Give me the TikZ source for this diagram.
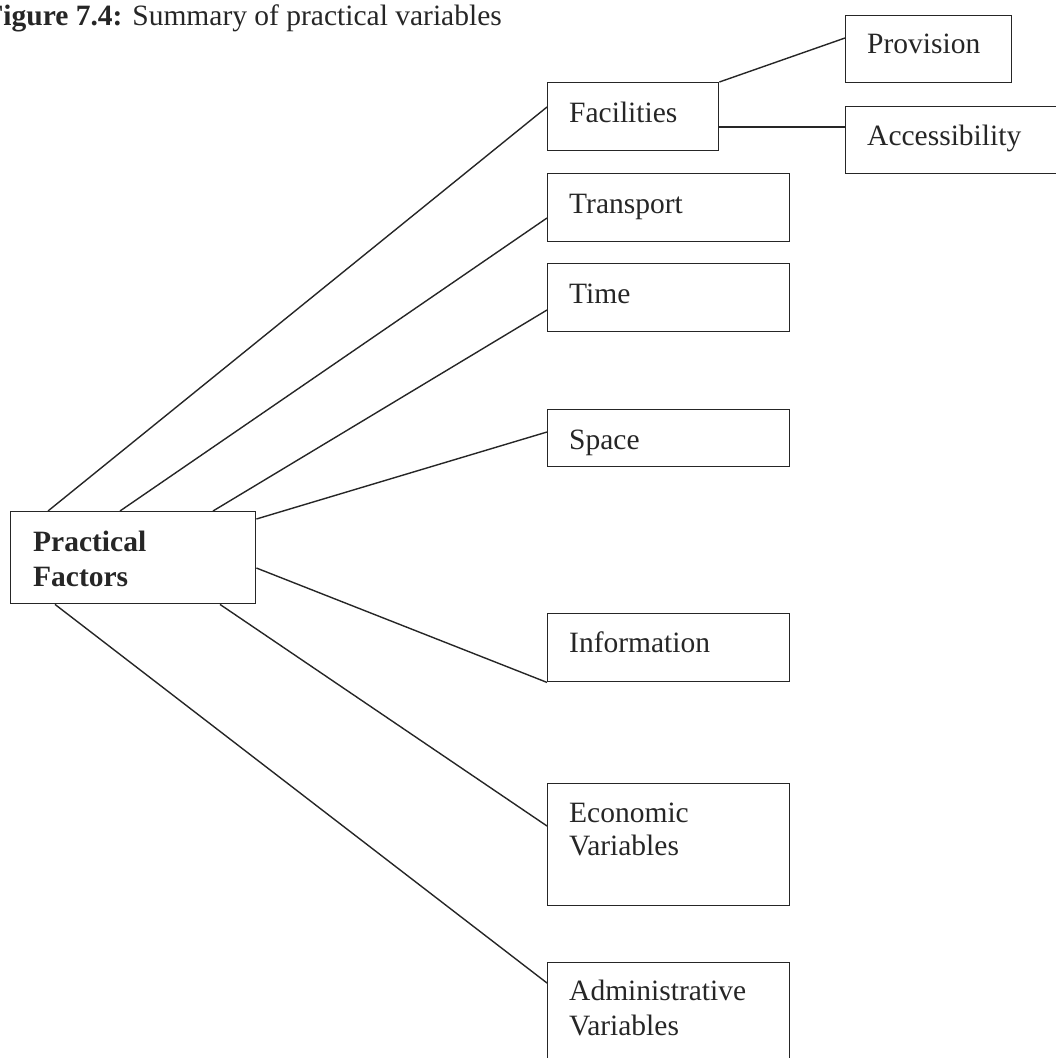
\documentclass[tikz,border=0pt]{standalone}
\usepackage{fontspec}
\setmainfont{Liberation Serif}
\begin{document}
\begin{tikzpicture}[x=1pt,y=-1pt,
  box/.style={draw=black!85, line width=1.4pt, rectangle, inner sep=0pt, anchor=north west},
  lbl/.style={anchor=base west, inner sep=0pt, align=left, text=black!85,
    font=\fontsize{29.5}{34}\selectfont},
  link/.style={draw=black!85, line width=1.4pt}]
\useasboundingbox (0,0) rectangle (1056,1058);
\clip (0,0) rectangle (1056,1058);

% caption
\node[anchor=base east, inner sep=0pt, text=black!85, font=\fontsize{29.5}{34}\selectfont]
  (cap) at (502,25) {\textbf{Figure 7.4:} Summary of practical variables};

% boxes
\node[box, minimum width=245pt, minimum height=92pt]  (pf)    at (10,511)  {};
\node[box, minimum width=171pt, minimum height=68pt]  (fac)   at (547,82)  {};
\node[box, minimum width=166pt, minimum height=67pt]  (prov)  at (845,15)  {};
\node[box, minimum width=230pt, minimum height=67pt]  (acc)   at (845,106) {};
\node[box, minimum width=242pt, minimum height=68pt]  (trans) at (547,173) {};
\node[box, minimum width=242pt, minimum height=68pt]  (time)  at (547,263) {};
\node[box, minimum width=242pt, minimum height=57pt]  (space) at (547,409) {};
\node[box, minimum width=242pt, minimum height=68pt]  (info)  at (547,613) {};
\node[box, minimum width=242pt, minimum height=122pt] (econ)  at (547,783) {};
\node[box, minimum width=242pt, minimum height=120pt] (admin) at (547,962) {};

% labels (for two-line labels the base anchor sits on the last line)
\node[lbl, font=\fontsize{29.5}{35}\selectfont\bfseries] (pft) at ([shift={(23,75)}]pf.north west) {Practical\\Factors};
\node[lbl] (fact)   at ([shift={(22,40)}]fac.north west)   {Facilities};
\node[lbl] (provt)  at ([shift={(22,38)}]prov.north west)  {Provision};
\node[lbl] (acct)   at ([shift={(22,39)}]acc.north west)   {Accessibility};
\node[lbl] (transt) at ([shift={(22,40)}]trans.north west) {Transport};
\node[lbl] (timet)  at ([shift={(22,40)}]time.north west)  {Time};
\node[lbl] (spacet) at ([shift={(22,40)}]space.north west) {Space};
\node[lbl] (infot)  at ([shift={(22,39)}]info.north west)  {Information};
\node[lbl, font=\fontsize{29.5}{33}\selectfont] (econt)  at ([shift={(22,72)}]econ.north west)  {Economic\\Variables};
\node[lbl, font=\fontsize{29.5}{35}\selectfont] (admint) at ([shift={(22,73)}]admin.north west) {Administrative\\Variables};

% connectors from the central box
\draw[link] ([xshift=38pt]pf.north west)  -- ([yshift=-25pt]fac.north west);
\draw[link] ([xshift=110pt]pf.north west) -- ([yshift=-45pt]trans.north west);
\draw[link] ([xshift=203pt]pf.north west) -- ([yshift=-47pt]time.north west);
\draw[link] ([yshift=-8pt]pf.north east)  -- ([yshift=-23pt]space.north west);
\draw[link] ([yshift=-57pt]pf.north east) -- (info.south west);
\draw[link] ([xshift=210pt]pf.south west) -- ([yshift=-43pt]econ.north west);
\draw[link] ([xshift=45pt]pf.south west)  -- ([yshift=-21pt]admin.north west);

% connectors from Facilities
\draw[link] (fac.north east) -- ([yshift=-23pt]prov.north west);
\draw[link] ([yshift=-45pt]fac.north east) -- ([yshift=-21pt]acc.north west);
\end{tikzpicture}
\end{document}
